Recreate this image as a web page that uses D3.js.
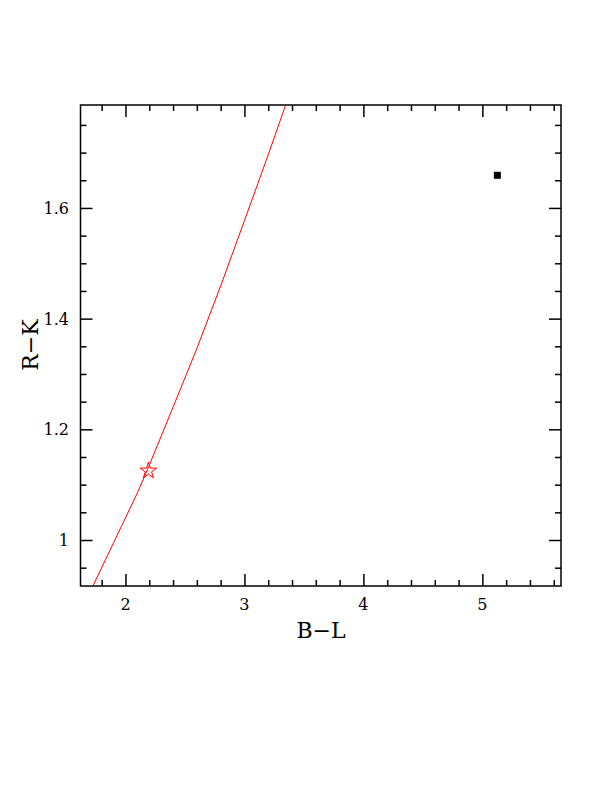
<!DOCTYPE html>
<html><head><meta charset="utf-8">
<script src="https://cdn.jsdelivr.net/npm/d3@7"></script>
<style>body{margin:0;background:#fff}svg{display:block}</style>
</head><body>
<script>
const xDomain = [1.622, 5.661];
const yDomain = [0.9169, 1.786];
const xMajor = [2, 3, 4, 5];
const yMajor = [1, 1.2, 1.4, 1.6];
const xMinorStep = 0.2;
const yMinorStep = 0.05;
const xLabel = "B\u2212L";
const yLabel = "R\u2212K";
// model track (red)
const trackX = [1.70, 1.90, 2.10, 2.20, 2.40, 2.60, 2.80, 3.00, 3.20, 3.40];
const trackY = [0.905, 0.995, 1.085, 1.135, 1.240, 1.346, 1.459, 1.577, 1.696, 1.819];
// star marker
const starX = [2.193];
const starY = [1.125];
// observed point (black square)
const obsX = [5.126];
const obsY = [1.659];

const W = 612, H = 792;
const L = 80.5, R = 561, T = 105, B = 586;
const svg = d3.select("body").append("svg").attr("width", W).attr("height", H);
const x = d3.scaleLinear().domain(xDomain).range([L, R]);
const y = d3.scaleLinear().domain(yDomain).range([B, T]);

const defs = svg.append("defs");
defs.append("clipPath").attr("id", "clip").append("rect")
  .attr("x", L).attr("y", T).attr("width", R - L).attr("height", B - T);

function minors(dom, step) {
  const out = [];
  const s = Math.ceil(dom[0] / step - 1e-9), e = Math.floor(dom[1] / step + 1e-9);
  for (let i = s; i <= e; i++) out.push(+(i * step).toFixed(6));
  return out;
}
const xMin = minors(xDomain, xMinorStep).filter(v => !xMajor.some(m => Math.abs(m - v) < 1e-6));
const yMin = minors(yDomain, yMinorStep).filter(v => !yMajor.some(m => Math.abs(m - v) < 1e-6));

const fmt = d => (d === 1 ? "1" : d3.format("")(d));
function axisGroup(axis, tf) {
  const g = svg.append("g").attr("transform", tf).call(axis);
  g.select(".domain").remove();
  g.selectAll("line").attr("stroke", "#000").attr("stroke-width", 1.5);
  return g;
}
// bottom
axisGroup(d3.axisTop(x).tickValues(xMajor).tickSize(12).tickFormat(""), `translate(0,${B})`);
axisGroup(d3.axisTop(x).tickValues(xMin).tickSize(6).tickFormat(""), `translate(0,${B})`);
// top
axisGroup(d3.axisBottom(x).tickValues(xMajor).tickSize(12).tickFormat(""), `translate(0,${T})`);
axisGroup(d3.axisBottom(x).tickValues(xMin).tickSize(6).tickFormat(""), `translate(0,${T})`);
// left
axisGroup(d3.axisRight(y).tickValues(yMajor).tickSize(12).tickFormat(""), `translate(${L},0)`);
axisGroup(d3.axisRight(y).tickValues(yMin).tickSize(6).tickFormat(""), `translate(${L},0)`);
// right
axisGroup(d3.axisLeft(y).tickValues(yMajor).tickSize(12).tickFormat(""), `translate(${R},0)`);
axisGroup(d3.axisLeft(y).tickValues(yMin).tickSize(6).tickFormat(""), `translate(${R},0)`);

// tick labels
const font = "'DejaVu Serif','Liberation Serif',serif";
svg.append("g").selectAll("text").data(xMajor).join("text")
  .attr("x", d => x(d)).attr("y", 610).attr("text-anchor", "middle")
  .attr("font-family", font).attr("font-size", 16).text(d => d);
svg.append("g").selectAll("text").data(yMajor).join("text")
  .attr("x", 69).attr("y", d => y(d) + 6).attr("text-anchor", "end")
  .attr("font-family", font).attr("font-size", 16).text(fmt);

// frame
svg.append("rect").attr("x", L).attr("y", T).attr("width", R - L).attr("height", B - T)
  .attr("fill", "none").attr("stroke", "#000").attr("stroke-width", 1.5);

// axis titles
svg.append("text").attr("x", 321).attr("y", 638).attr("text-anchor", "middle")
  .attr("font-family", font).attr("font-size", 22).text(xLabel);
svg.append("text").attr("transform", "translate(38,345) rotate(-90)").attr("text-anchor", "middle")
  .attr("font-family", font).attr("font-size", 22).text(yLabel);

// track
const track = trackX.map((v, i) => [v, trackY[i]]);
svg.append("path").datum(track).attr("clip-path", "url(#clip)")
  .attr("d", d3.line().x(d => x(d[0])).y(d => y(d[1])))
  .attr("fill", "none").attr("stroke", "#ff0000").attr("stroke-width", 1);

// star
svg.append("g").selectAll("path").data(starX.map((v, i) => [v, starY[i]])).join("path")
  .attr("transform", d => `translate(${x(d[0])},${y(d[1])})`)
  .attr("d", d3.symbol().type(d3.symbolStar).size(85))
  .attr("fill", "none").attr("stroke", "#ff0000").attr("stroke-width", 1);

// observed square
svg.append("g").selectAll("rect").data(obsX.map((v, i) => [v, obsY[i]])).join("rect")
  .attr("x", d => x(d[0]) - 3.5).attr("y", d => y(d[1]) - 3.5)
  .attr("width", 7).attr("height", 7).attr("fill", "#000");
</script>
</body></html>
